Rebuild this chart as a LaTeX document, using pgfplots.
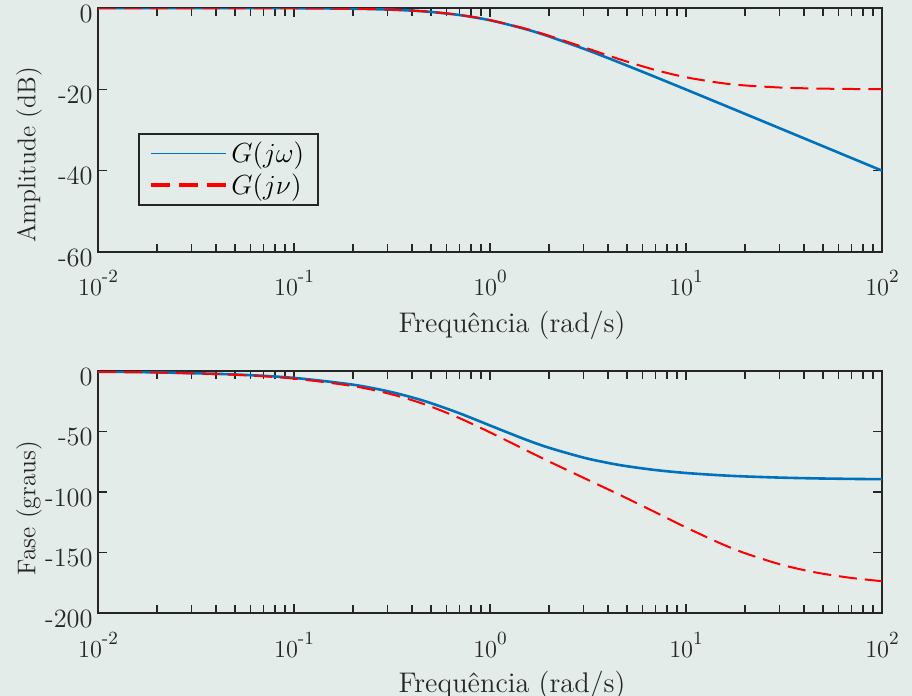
\RequirePackage{fix-cm}
\documentclass[border=0pt]{standalone}
\usepackage{pgfplots}
\usepackage{pgfplotstable}
\pgfplotsset{compat=1.18}
\definecolor{bg}{RGB}{228,236,233}
\definecolor{axc}{RGB}{38,38,38}
\definecolor{mblue}{RGB}{0,114,189}

% w  mag_w  mag_v  fase_w  fase_v
\pgfplotstableread{
w     mw       mv       pw       pv
0.01  -0.0004  -0.0004  -0.573   -0.630
0.02  -0.0017  -0.0017  -1.146   -1.261
0.05  -0.0108  -0.0107  -2.862   -3.149
0.1   -0.0432  -0.0428  -5.711   -6.284
0.2   -0.170   -0.168   -11.310  -12.456
0.3   -0.374   -0.370   -16.699  -18.417
0.4   -0.645   -0.638   -21.801  -24.092
0.5   -0.969   -0.958   -26.565  -29.427
0.7   -1.732   -1.711   -34.992  -38.996
1     -3.010   -2.967   -45.000  -50.711
1.5   -5.119   -5.022   -56.310  -64.841
2     -6.990   -6.820   -63.435  -74.745
3     -10.000  -9.626   -71.565  -88.264
4     -12.304  -11.660  -75.964  -97.765
5     -14.150  -13.181  -78.690  -105.255
7     -16.990  -15.258  -81.870  -116.862
10    -20.043  -17.033  -84.289  -129.289
15    -23.541  -18.422  -86.186  -142.496
20    -26.031  -19.041  -87.138  -150.573
30    -29.547  -19.547  -88.091  -159.656
40    -32.044  -19.740  -88.568  -164.532
50    -33.981  -19.831  -88.854  -167.544
70    -36.903  -19.913  -89.182  -171.052
100   -40.000  -19.957  -89.427  -173.716
}\bodedata

\pgfplotsset{legend image code/.code={\draw[#1] (0pt,0pt) -- (37.5pt,0pt);}}
\newcommand{\ex}[1]{10\raisebox{6.5pt}{\fontsize{9.3}{10}\selectfont #1}}

\begin{document}
\begin{tikzpicture}[font=\fontsize{13.8}{16}\selectfont]
\fill[bg] (-49pt,-222pt) rectangle (407pt,126pt);
\begin{axis}[scale only axis, width=392pt, height=122pt,
  xmode=log, xmin=0.01, xmax=100,
  xtick={0.01,0.1,1,10,100},
  xticklabels={\ex{-2},\ex{-1},\ex{0},\ex{1},\ex{2}},
  axis line style={axc, line width=0.9pt},
  tick style={axc, line width=0.8pt},
  tick align=inside,
  major tick length=4.5pt, minor tick length=4pt,
  tick label style={text=axc},
  xticklabel style={font=\fontsize{12.2}{14}\selectfont, anchor=base, yshift=-22pt, inner sep=0pt},
  yticklabel style={font=\fontsize{13.2}{15}\selectfont, anchor=east, inner sep=0pt, xshift=-2.5pt, yshift=-2.8pt},
  xlabel={Frequência (rad/s)},
  xlabel style={at={(axis description cs:0.5,0)}, xshift=11pt, yshift=-36.5pt, anchor=center, text=axc,
    font=\fontsize{14.2}{16}\selectfont},
  ylabel style={at={(axis description cs:-0.088,0.398)}, anchor=center, text=axc,
    font=\fontsize{12.8}{15}\selectfont},
  ymin=-60, ymax=0, ytick={-60,-40,-20,0}, yticklabels={-60,-40,-20,0},
  ylabel={Amplitude (dB)},
  legend cell align=left,
  legend style={at={(axis description cs:0.051,0.488)}, anchor=north west,
    draw=axc, line width=0.8pt, fill=bg, inner xsep=5pt, inner ysep=2pt}]
\addplot[mblue, line width=1.3pt, smooth, forget plot] table[x=w, y=mw] {\bodedata};
\addplot[red, line width=1pt, dash pattern=on 9pt off 4pt, smooth, forget plot] table[x=w, y=mv] {\bodedata};
\addlegendimage{mblue, line width=0.6pt}
\addlegendentry{$G(j\omega)$}
\addlegendimage{red, line width=1.8pt, dash pattern=on 9.5pt off 4.5pt}
\addlegendentry{$G(j\nu)$}
\end{axis}
\begin{axis}[scale only axis, width=392pt, height=121pt, at={(0,-180.5pt)},
  xmode=log, xmin=0.01, xmax=100,
  xtick={0.01,0.1,1,10,100},
  xticklabels={\ex{-2},\ex{-1},\ex{0},\ex{1},\ex{2}},
  axis line style={axc, line width=0.9pt},
  tick style={axc, line width=0.8pt},
  tick align=inside,
  major tick length=4.5pt, minor tick length=4pt,
  tick label style={text=axc},
  xticklabel style={font=\fontsize{12.2}{14}\selectfont, anchor=base, yshift=-22pt, inner sep=0pt},
  yticklabel style={font=\fontsize{13.2}{15}\selectfont, anchor=east, inner sep=0pt, xshift=-2.5pt, yshift=-2.8pt},
  xlabel={Frequência (rad/s)},
  xlabel style={at={(axis description cs:0.5,0)}, xshift=11pt, yshift=-36pt, anchor=center, text=axc,
    font=\fontsize{14.2}{16}\selectfont},
  ylabel style={at={(axis description cs:-0.088,0.434)}, anchor=center, text=axc,
    font=\fontsize{12.8}{15}\selectfont},
  ymin=-200, ymax=0, ytick={-200,-150,-100,-50,0},
  yticklabels={-200,-150,-100,-50,0},
  ylabel={Fase (graus)}]
\addplot[mblue, line width=1.3pt, smooth] table[x=w, y=pw] {\bodedata};
\addplot[red, line width=1pt, dash pattern=on 9pt off 4pt, smooth] table[x=w, y=pv] {\bodedata};
\end{axis}
\pgfresetboundingbox
\path[use as bounding box] (-49pt,-222pt) rectangle (407pt,126pt);
\end{tikzpicture}
\end{document}
